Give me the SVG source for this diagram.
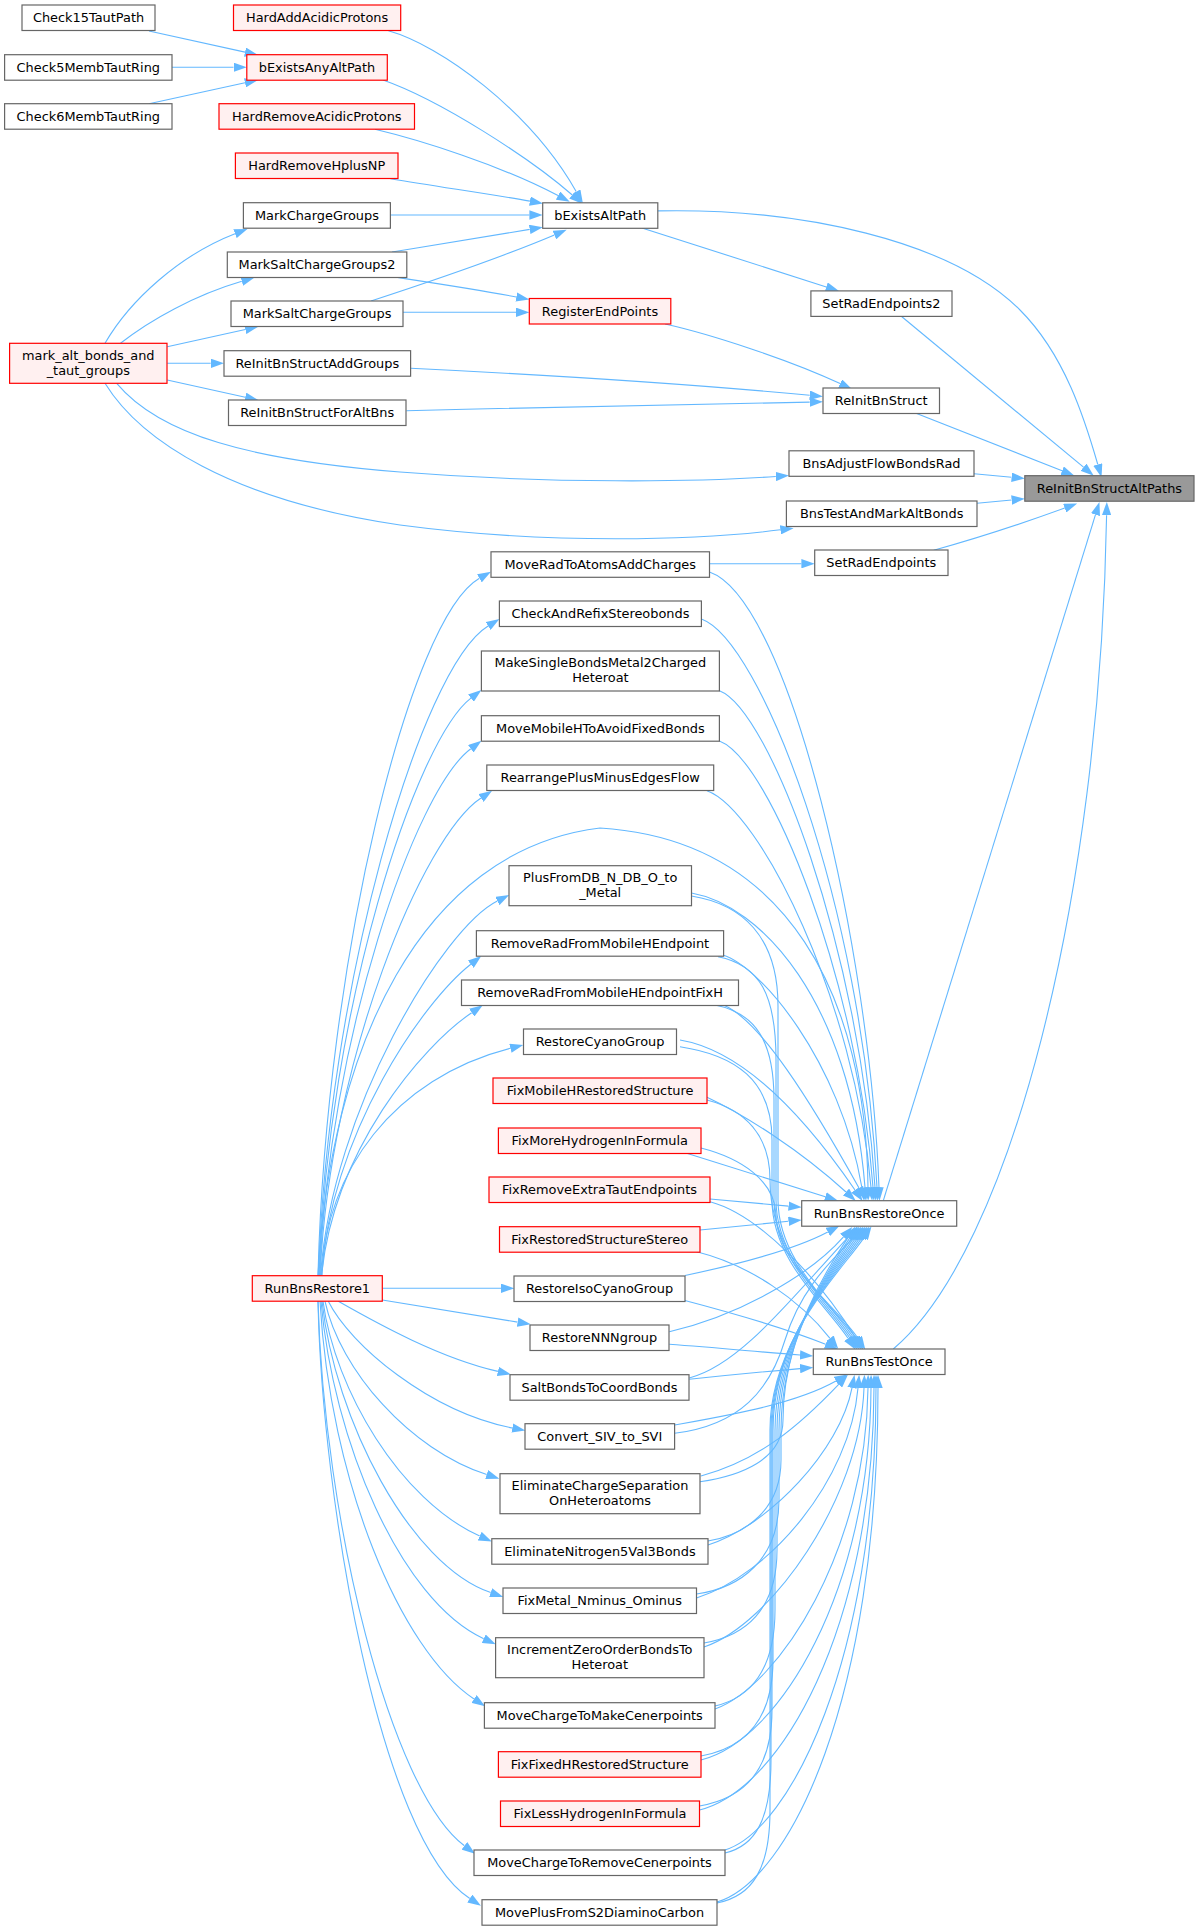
<svg xmlns="http://www.w3.org/2000/svg" width="1195" height="1931" viewBox="0 0 1195 1931">
<defs>
<style>
.e{fill:none;stroke:#63b8ff;stroke-width:1.1;marker-end:url(#a)}
.n rect{fill:#ffffff;stroke:#666666;stroke-width:1.2}
.r rect{fill:#fff0f0;stroke:#ff0000;stroke-width:1.2}
.root rect{fill:#999999;stroke:#666666;stroke-width:1.2}
text{font-family:"DejaVu Sans","Liberation Sans",sans-serif;font-size:12.9px;fill:#000000;text-anchor:middle}
</style>
<marker id="a" markerWidth="13.3" markerHeight="9.4" refX="0" refY="4.7" orient="auto" markerUnits="userSpaceOnUse"><path d="M0,0 L13.3,4.7 L0,9.4 z" fill="#63b8ff"/></marker>
</defs>
<rect width="1195" height="1931" fill="#ffffff"/>
<g id="edges">
<path class="e" d="M149,31 L245,52.1"/>
<path class="e" d="M172,67.3 L233.5,67.3"/>
<path class="e" d="M149,103.7 L245,82.8"/>
<path class="e" d="M383,80 C440,100 530,158 572.3,195"/>
<path class="e" d="M388.4,30.7 C440,45 530,110 576.3,191.7"/>
<path class="e" d="M375,129.3 C420,140 500,165 558,195.6"/>
<path class="e" d="M390.4,178.7 C440,187 490,194 529.9,201.1"/>
<path class="e" d="M390.4,215 L529.4,215"/>
<path class="e" d="M392,252 C440,244 490,236 529.7,229.4"/>
<path class="e" d="M371,301 C420,285 500,258 554.4,235"/>
<path class="e" d="M396,277.3 C440,284 480,290 516.3,297"/>
<path class="e" d="M403,312.3 L516,312.3"/>
<path class="e" d="M105,343.3 C130,300 180,255 235,233.7"/>
<path class="e" d="M120.5,343.3 C150,320 195,295 241.8,281.3"/>
<path class="e" d="M167.2,346.7 L245.3,329.5"/>
<path class="e" d="M167.2,363.3 L210.7,363.3"/>
<path class="e" d="M167.2,380 L245.3,397.2"/>
<path class="e" d="M116.7,383.3 C160,435 250,460 400,472 C550,484 700,482 775.8,476.5"/>
<path class="e" d="M105,383.3 C140,440 230,500 400,525 C550,545 700,540 780.4,529.8"/>
<path class="e" d="M657.8,210.9 C800,208 950,240 1020,310 C1065,355 1085,420 1097.8,464.5"/>
<path class="e" d="M642,228 L826.3,286.9"/>
<path class="e" d="M665,324 C710,334 790,360 840.1,383.6"/>
<path class="e" d="M410.6,368.3 C550,375 700,385 809.7,395.2"/>
<path class="e" d="M406.4,410.7 C550,407 700,404 809.7,402.1"/>
<path class="e" d="M901,316 L1083.5,467.2"/>
<path class="e" d="M916,413.3 L1062.1,470.8"/>
<path class="e" d="M974,473.8 L1011.6,477.2"/>
<path class="e" d="M977,503.3 L1011.6,500"/>
<path class="e" d="M933.7,550.3 C960,543 1010,528 1064.7,508.1"/>
<path class="e" d="M883.3,1200.7 L1095.5,514.7"/>
<path class="e" d="M893.3,1349 C1010,1250 1100,900 1106.6,515.3"/>
<path class="e" d="M709.5,563.7 L801.4,563.7"/>
<path class="e" d="M318,1275.7 C326,960 409.8,618.3 479.4,578.3"/>
<path class="e" d="M318.5,1275.7 C327,990 420,668 488.1,626"/>
<path class="e" d="M319,1275.7 C328,1010 415.6,740.8 470.9,698.1"/>
<path class="e" d="M319.5,1275.7 C329,1040 414.8,790.7 470.8,748.7"/>
<path class="e" d="M320,1275.7 C330,1060 422.9,836.5 481,798"/>
<path class="e" d="M318,1275.7 C330,1050 420,850 600,828 C790,840 866,1000 868,1187.4"/>
<path class="e" d="M320.5,1275.7 C332,1110 443.3,928 497.3,901"/>
<path class="e" d="M321,1275.7 C333,1130 423.4,1001.4 470.8,964.2"/>
<path class="e" d="M321.5,1275.7 C334,1150 421.9,1046.3 471.7,1012.7"/>
<path class="e" d="M322,1275.7 C325,1172 394,1078 510.4,1048.3"/>
<path class="e" d="M382.3,1288.3 L501,1288.3"/>
<path class="e" d="M382.3,1300 L517.6,1322.1"/>
<path class="e" d="M338.3,1301.3 C380,1325 440,1358 497.9,1371.4"/>
<path class="e" d="M328.3,1301.3 C350,1345 430,1412 512.3,1428"/>
<path class="e" d="M325,1301.3 C340,1370 410,1450 486.7,1474.6"/>
<path class="e" d="M323,1301.3 C335,1390 400,1500 479.7,1536.1"/>
<path class="e" d="M322,1301.3 C335,1420 410,1565 490.7,1592.6"/>
<path class="e" d="M321,1301.3 C333,1440 400,1600 483.7,1638.7"/>
<path class="e" d="M320,1301.3 C330,1480 400,1650 474,1699"/>
<path class="e" d="M318,1301.3 C324,1520 390,1790 464.4,1845.8"/>
<path class="e" d="M318,1301.3 C322,1500 380,1840 469.8,1898.5"/>
<path class="e" d="M709.5,572 C790,600 870,950 879,1187.4"/>
<path class="e" d="M701.4,619 C760,640 862,900 877,1187.4"/>
<path class="e" d="M719.4,690.7 C770,710 860,950 875,1187.4"/>
<path class="e" d="M719.4,741 C770,760 858,980 873,1187.4"/>
<path class="e" d="M707,790.7 C760,810 855,1000 871,1187.4"/>
<path class="e" d="M691.5,893 C760,905 850,1000 865,1187.4"/>
<path class="e" d="M722.7,955 C760,966 840,1060 862,1188"/>
<path class="e" d="M723.3,1005 C760,1020 810,1100 859,1188"/>
<path class="e" d="M680,1040 C740,1050 800,1110 855,1190"/>
<path class="e" d="M706,1096.7 C745,1115 800,1150 846,1192"/>
<path class="e" d="M686.7,1153.3 L825.3,1196.7"/>
<path class="e" d="M710,1199 L788.5,1206.1"/>
<path class="e" d="M700,1230 L788.5,1221.3"/>
<path class="e" d="M685,1275.5 C730,1266 790,1252 827.8,1232"/>
<path class="e" d="M669.3,1331.7 C740,1315 810,1275 843.5,1236.9"/>
<path class="e" d="M689.3,1378 C740,1365 790,1300 848.7,1236.6"/>
<path class="e" d="M674.6,1433.3 C740,1425 770,1390 785,1340 C800,1290 830,1262 853.8,1237.4"/>
<path class="e" d="M700,1481.7 C740,1476 783,1460 783,1420 C783,1340 826,1270 848,1237.6"/>
<path class="e" d="M708,1541 C745,1535 781,1510 781,1460 L781,1430 C781,1340 828,1270 850,1237.6"/>
<path class="e" d="M696.5,1594 C740,1588 779,1560 779,1500 L779,1430 C779,1340 830,1270 852,1237.6"/>
<path class="e" d="M704,1643 C745,1636 777,1610 777,1550 L777,1430 C777,1340 832,1270 854,1237.6"/>
<path class="e" d="M715,1706 C750,1698 775,1670 775,1610 L775,1430 C775,1340 834,1270 856,1237.6"/>
<path class="e" d="M701,1756 C745,1748 773,1720 773,1660 L773,1430 C773,1340 836,1270 858,1237.6"/>
<path class="e" d="M699.5,1806 C745,1798 772,1770 772,1710 L772,1430 C772,1340 838,1270 860,1237.6"/>
<path class="e" d="M725,1853 C755,1846 771,1820 771,1760 L771,1430 C771,1340 840,1270 862,1237.6"/>
<path class="e" d="M717,1903 C752,1896 770,1870 770,1810 L770,1430 C770,1340 842,1270 864,1237.6"/>
<path class="e" d="M701,1476 C760,1460 800,1425 838.7,1384.4"/>
<path class="e" d="M708,1545 C770,1525 840,1450 852,1387.9"/>
<path class="e" d="M696.5,1598 C770,1575 850,1480 858,1388"/>
<path class="e" d="M704,1647 C770,1625 860,1500 864,1388"/>
<path class="e" d="M715,1709 C780,1685 866,1550 868,1388"/>
<path class="e" d="M701,1760 C780,1740 870,1590 871,1388"/>
<path class="e" d="M699.5,1810 C780,1790 873,1630 874,1388"/>
<path class="e" d="M725,1850 C790,1830 876,1660 876,1388"/>
<path class="e" d="M717,1902 C790,1880 878,1700 878,1388"/>
<path class="e" d="M674.6,1425 C730,1415 795,1404 836,1381"/>
<path class="e" d="M691.5,896 C741.5,904 778,936 778,1006 L778,1200 C778,1260 832,1305 854,1338.3"/>
<path class="e" d="M718,956.7 C760,965 776,995 776,1060 L776,1200 C776,1260 830,1305 852,1338.3"/>
<path class="e" d="M715,1005 C755,1013 774,1040 774,1100 L774,1200 C774,1260 828,1305 850,1338.3"/>
<path class="e" d="M680,1046.7 C735,1055 772,1080 772,1140 L772,1200 C772,1260 826,1305 848,1338.3"/>
<path class="e" d="M707,1100 C745,1110 770,1135 770,1180 C770,1260 834,1305 856,1338.3"/>
<path class="e" d="M701,1148 C740,1158 775,1180 776,1215 C777,1265 836,1305 858,1338.3"/>
<path class="e" d="M710,1201.7 C760,1215 820,1280 855.7,1338"/>
<path class="e" d="M696.7,1251.7 C750,1265 800,1300 830,1338.3"/>
<path class="e" d="M683,1300 C740,1315 790,1330 825.6,1344.2"/>
<path class="e" d="M669.3,1344.3 C720,1348 760,1352 800,1355"/>
<path class="e" d="M689.3,1379.3 C720,1376 760,1372 800,1368.6"/>
</g>
<g id="n_Check15TautPath" class="n"><rect x="22" y="5" width="133" height="25.5"/><text x="88.5" y="22.3">Check15TautPath</text></g>
<g id="n_Check5MembTautRing" class="n"><rect x="4.6" y="54.7" width="167.4" height="25.5"/><text x="88.3" y="72">Check5MembTautRing</text></g>
<g id="n_Check6MembTautRing" class="n"><rect x="4.6" y="103.7" width="167.4" height="25.5"/><text x="88.3" y="121">Check6MembTautRing</text></g>
<g id="n_mark_alt_bonds_and_taut_groups" class="r"><rect x="9.6" y="343.3" width="157.4" height="40"/><text x="88.3" y="359.6">mark_alt_bonds_and</text><text x="88.3" y="374.6">_taut_groups</text></g>
<g id="n_HardAddAcidicProtons" class="r"><rect x="233.5" y="5" width="167.2" height="25.5"/><text x="317.1" y="22.3">HardAddAcidicProtons</text></g>
<g id="n_bExistsAnyAltPath" class="r"><rect x="246.8" y="54.7" width="140.5" height="25.5"/><text x="317" y="72">bExistsAnyAltPath</text></g>
<g id="n_HardRemoveAcidicProtons" class="r"><rect x="219" y="103.7" width="195.5" height="25.5"/><text x="316.8" y="121">HardRemoveAcidicProtons</text></g>
<g id="n_HardRemoveHplusNP" class="r"><rect x="235.4" y="153" width="162.6" height="25.5"/><text x="316.7" y="170.3">HardRemoveHplusNP</text></g>
<g id="n_MarkChargeGroups" class="n"><rect x="243.4" y="202.7" width="147" height="25.5"/><text x="316.9" y="220">MarkChargeGroups</text></g>
<g id="n_MarkSaltChargeGroups2" class="n"><rect x="227.3" y="252" width="179.5" height="25.5"/><text x="317" y="269.3">MarkSaltChargeGroups2</text></g>
<g id="n_MarkSaltChargeGroups" class="n"><rect x="231" y="301" width="172" height="25.5"/><text x="317" y="318.3">MarkSaltChargeGroups</text></g>
<g id="n_ReInitBnStructAddGroups" class="n"><rect x="224" y="350.7" width="186.6" height="25.5"/><text x="317.3" y="368">ReInitBnStructAddGroups</text></g>
<g id="n_ReInitBnStructForAltBns" class="n"><rect x="228.5" y="400" width="177.5" height="25.5"/><text x="317.2" y="417.3">ReInitBnStructForAltBns</text></g>
<g id="n_RunBnsRestore1" class="r"><rect x="252.3" y="1275.7" width="130" height="25.5"/><text x="317.3" y="1293">RunBnsRestore1</text></g>
<g id="n_bExistsAltPath" class="n"><rect x="542.7" y="202.8" width="115.1" height="25.5"/><text x="600.2" y="220.1">bExistsAltPath</text></g>
<g id="n_RegisterEndPoints" class="r"><rect x="529.3" y="298.5" width="141.5" height="25.5"/><text x="600" y="315.8">RegisterEndPoints</text></g>
<g id="n_MoveRadToAtomsAddCharges" class="n"><rect x="491" y="551.8" width="218.5" height="25.5"/><text x="600.2" y="569.1">MoveRadToAtomsAddCharges</text></g>
<g id="n_CheckAndRefixStereobonds" class="n"><rect x="499.4" y="601" width="202" height="25.5"/><text x="600.4" y="618.3">CheckAndRefixStereobonds</text></g>
<g id="n_MakeSingleBondsMetal2ChargedHeteroat" class="n"><rect x="481.4" y="651" width="238" height="40"/><text x="600.4" y="667.3">MakeSingleBondsMetal2Charged</text><text x="600.4" y="682.3">Heteroat</text></g>
<g id="n_MoveMobileHToAvoidFixedBonds" class="n"><rect x="481.4" y="715.7" width="238" height="25.5"/><text x="600.4" y="733">MoveMobileHToAvoidFixedBonds</text></g>
<g id="n_RearrangePlusMinusEdgesFlow" class="n"><rect x="486.8" y="765" width="226.9" height="25.5"/><text x="600.2" y="782.3">RearrangePlusMinusEdgesFlow</text></g>
<g id="n_PlusFromDB_N_DB_O_to_Metal" class="n"><rect x="509" y="865.7" width="182.5" height="40"/><text x="600.2" y="882">PlusFromDB_N_DB_O_to</text><text x="600.2" y="897">_Metal</text></g>
<g id="n_RemoveRadFromMobileHEndpoint" class="n"><rect x="476.4" y="930.7" width="247.2" height="25.5"/><text x="600" y="948">RemoveRadFromMobileHEndpoint</text></g>
<g id="n_RemoveRadFromMobileHEndpointFixH" class="n"><rect x="461.5" y="980" width="277" height="25.5"/><text x="600" y="997.3">RemoveRadFromMobileHEndpointFixH</text></g>
<g id="n_RestoreCyanoGroup" class="n"><rect x="523.5" y="1029" width="153" height="25.5"/><text x="600" y="1046.3">RestoreCyanoGroup</text></g>
<g id="n_FixMobileHRestoredStructure" class="r"><rect x="493" y="1078" width="214" height="25.5"/><text x="600" y="1095.3">FixMobileHRestoredStructure</text></g>
<g id="n_FixMoreHydrogenInFormula" class="r"><rect x="498.4" y="1128" width="202.6" height="25.5"/><text x="599.7" y="1145.3">FixMoreHydrogenInFormula</text></g>
<g id="n_FixRemoveExtraTautEndpoints" class="r"><rect x="489" y="1177" width="221" height="25.5"/><text x="599.5" y="1194.3">FixRemoveExtraTautEndpoints</text></g>
<g id="n_FixRestoredStructureStereo" class="r"><rect x="499.5" y="1226.7" width="200.5" height="25.5"/><text x="599.7" y="1244">FixRestoredStructureStereo</text></g>
<g id="n_RestoreIsoCyanoGroup" class="n"><rect x="514" y="1276" width="171" height="25.5"/><text x="599.5" y="1293.3">RestoreIsoCyanoGroup</text></g>
<g id="n_RestoreNNNgroup" class="n"><rect x="530" y="1325" width="139" height="25.5"/><text x="599.5" y="1342.3">RestoreNNNgroup</text></g>
<g id="n_SaltBondsToCoordBonds" class="n"><rect x="510" y="1374.7" width="179" height="25.5"/><text x="599.5" y="1392">SaltBondsToCoordBonds</text></g>
<g id="n_Convert_SIV_to_SVI" class="n"><rect x="525" y="1423.7" width="149.6" height="25.5"/><text x="599.8" y="1441">Convert_SIV_to_SVI</text></g>
<g id="n_EliminateChargeSeparationOnHeteroatoms" class="n"><rect x="500" y="1473.7" width="200" height="40"/><text x="600" y="1490">EliminateChargeSeparation</text><text x="600" y="1505">OnHeteroatoms</text></g>
<g id="n_EliminateNitrogen5Val3Bonds" class="n"><rect x="491.8" y="1538.7" width="216.2" height="25.5"/><text x="599.9" y="1556">EliminateNitrogen5Val3Bonds</text></g>
<g id="n_FixMetal_Nminus_Ominus" class="n"><rect x="503" y="1588" width="193.5" height="25.5"/><text x="599.7" y="1605.3">FixMetal_Nminus_Ominus</text></g>
<g id="n_IncrementZeroOrderBondsToHeteroat" class="n"><rect x="495.6" y="1637.7" width="208.4" height="40"/><text x="599.8" y="1654">IncrementZeroOrderBondsTo</text><text x="599.8" y="1669">Heteroat</text></g>
<g id="n_MoveChargeToMakeCenerpoints" class="n"><rect x="484.4" y="1702.7" width="230.6" height="25.5"/><text x="599.7" y="1720">MoveChargeToMakeCenerpoints</text></g>
<g id="n_FixFixedHRestoredStructure" class="r"><rect x="498.4" y="1751.7" width="202.6" height="25.5"/><text x="599.7" y="1769">FixFixedHRestoredStructure</text></g>
<g id="n_FixLessHydrogenInFormula" class="r"><rect x="500.5" y="1801" width="199" height="25.5"/><text x="600" y="1818.3">FixLessHydrogenInFormula</text></g>
<g id="n_MoveChargeToRemoveCenerpoints" class="n"><rect x="474" y="1850" width="251" height="25.5"/><text x="599.5" y="1867.3">MoveChargeToRemoveCenerpoints</text></g>
<g id="n_MovePlusFromS2DiaminoCarbon" class="n"><rect x="482" y="1899.7" width="235" height="25.5"/><text x="599.5" y="1917">MovePlusFromS2DiaminoCarbon</text></g>
<g id="n_SetRadEndpoints2" class="n"><rect x="810.9" y="290.9" width="141.1" height="25.5"/><text x="881.4" y="308.2">SetRadEndpoints2</text></g>
<g id="n_ReInitBnStruct" class="n"><rect x="823" y="388" width="116.5" height="25.5"/><text x="881.2" y="405.3">ReInitBnStruct</text></g>
<g id="n_BnsAdjustFlowBondsRad" class="n"><rect x="789" y="450.8" width="185" height="25.5"/><text x="881.5" y="468.1">BnsAdjustFlowBondsRad</text></g>
<g id="n_BnsTestAndMarkAltBonds" class="n"><rect x="786.4" y="501" width="190.6" height="25.5"/><text x="881.7" y="518.3">BnsTestAndMarkAltBonds</text></g>
<g id="n_SetRadEndpoints" class="n"><rect x="814.7" y="550" width="133.3" height="25.5"/><text x="881.3" y="567.3">SetRadEndpoints</text></g>
<g id="n_RunBnsRestoreOnce" class="n"><rect x="801.7" y="1200.7" width="155" height="25.5"/><text x="879.2" y="1218">RunBnsRestoreOnce</text></g>
<g id="n_RunBnsTestOnce" class="n"><rect x="813.3" y="1349" width="131.7" height="25.5"/><text x="879.1" y="1366.3">RunBnsTestOnce</text></g>
<g id="n_ReInitBnStructAltPaths" class="root"><rect x="1024.8" y="475.7" width="169.2" height="25.5"/><text x="1109.4" y="493">ReInitBnStructAltPaths</text></g>
</svg>
